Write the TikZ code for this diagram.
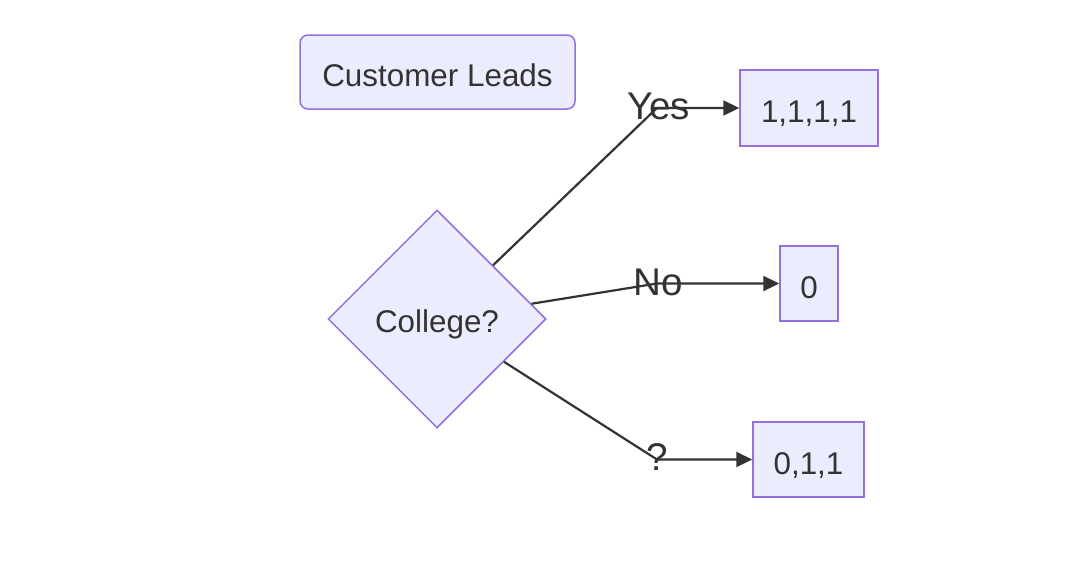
\documentclass[tikz,border=0pt]{standalone}
\usepackage{fontspec}
\setmainfont{Liberation Sans}
\usepackage{xcolor}
\usetikzlibrary{shapes.geometric}
\usetikzlibrary{arrows.meta}
\definecolor{nodefill}{HTML}{ECECFF}
\definecolor{nodeline}{HTML}{9370DB}
\definecolor{ink}{HTML}{333333}

\begin{document}
\begin{tikzpicture}[x=0.5pt, y=-0.5pt,
        box/.style={draw=nodeline, fill=nodefill, line width=0.75pt, text=ink,
            font=\fontsize{15.7}{18}\selectfont, inner sep=0pt,
            text height=14.5pt, text depth=0pt},
        edge/.style={draw=ink, line width=1.1pt, -{Triangle[length=8pt,width=7.5pt]}},
        edgelabel/.style={text=ink, font=\fontsize{19.3}{22}\selectfont, inner sep=0pt,
            text height=13.6pt, text depth=0pt}]
                \useasboundingbox (0,0) rectangle (1068,562);

                %leads
                \node[box, rounded corners=4pt, minimum width=137.5pt, minimum height=37pt] (leads) at (437.5,72) {Customer Leads};

                %question
                \node[box, diamond, minimum width=109pt, minimum height=109pt, text height=13pt] (college) at (437,319) {College?};

                %answers
                \node[box, minimum width=69pt, minimum height=38pt] (allone) at (809,108) {1,1,1,1};
                \node[box, minimum width=29pt, minimum height=37.5pt] (zero) at (809,283.5) {0};
                \node[box, minimum width=55.5pt, minimum height=37.5pt] (unknown) at (808.5,459.5) {0,1,1};

                % bends
                \coordinate (yesbend) at (657,108);
                \coordinate (nobend) at (657,283.5);
                \coordinate (unkbend) at (657,459.5);

                %edges
                \draw[edge] (college) -- (yesbend) -- (allone);
                \draw[edge] (college) -- (nobend) -- (zero);
                \draw[edge] (college) -- (unkbend) -- (unknown);

                %labels
                \node[edgelabel] (yeslabel) at (658.5,106) {Yes};
                \node[edgelabel] (nolabel) at (658,282) {No};
                \node[edgelabel] (unklabel) at (657.5,457) {?};

            \end{tikzpicture}
\end{document}
